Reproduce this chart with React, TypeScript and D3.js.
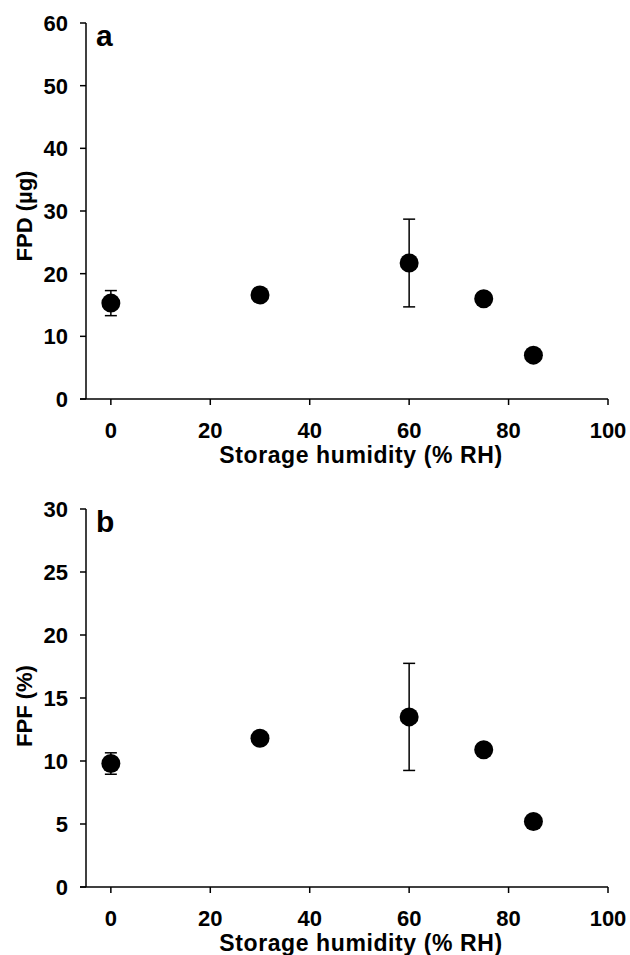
import React from 'react';
import * as d3 from 'd3';

// storage humidity (% RH)
const humidity = [0, 30, 60, 75, 85];
// panel a: fine particle dose (µg)
const fpdMean = [15.3, 16.6, 21.7, 16.0, 7.0];
const fpdErr = [2.0, 0, 7.0, 0, 0];
// panel b: fine particle fraction (%)
const fpfMean = [9.8, 11.8, 13.5, 10.9, 5.2];
const fpfErr = [0.85, 0, 4.25, 0, 0];

const xTicks = [0, 20, 40, 60, 80, 100];
const fpdTicks = [0, 10, 20, 30, 40, 50, 60];
const fpfTicks = [0, 5, 10, 15, 20, 25, 30];

const FONT = '"Liberation Sans", Arial, sans-serif';

type PanelProps = {
  top: number;
  bottom: number;
  letter: string;
  yLabel: string;
  yLabelMid: number;
  yMax: number;
  yTicks: number[];
  means: number[];
  errs: number[];
};

const Panel = ({ top, bottom, letter, yLabel, yLabelMid, yMax, yTicks, means, errs }: PanelProps) => {
  const x = d3.scaleLinear().domain([-5, 100]).range([86, 608]);
  const y = d3.scaleLinear().domain([0, yMax]).range([bottom, top]);
  const x0 = x.range()[0];

  return (
    <g fontFamily={FONT} fontWeight="bold" fill="#000">
      {/* axes */}
      <line x1={x0} x2={x0} y1={y(yMax)} y2={y(0)} stroke="#000" strokeWidth={1.5} />
      <line x1={x0 - 6} x2={x(100)} y1={y(0)} y2={y(0)} stroke="#000" strokeWidth={1.5} />
      {yTicks.map(t => (
        <g key={'y' + t}>
          <line x1={x0 - 6} x2={x0} y1={y(t)} y2={y(t)} stroke="#000" strokeWidth={1.5} />
          <text x={68} y={y(t) + 8} textAnchor="end" fontSize={22}>
            {t}
          </text>
        </g>
      ))}
      {xTicks.map(t => (
        <g key={'x' + t}>
          <line x1={x(t)} x2={x(t)} y1={y(0)} y2={y(0) + 6} stroke="#000" strokeWidth={1.5} />
          <text x={x(t)} y={y(0) + 39} textAnchor="middle" fontSize={22}>
            {t}
          </text>
        </g>
      ))}
      <text x={361} y={y(0) + 64} textAnchor="middle" fontSize={23} letterSpacing={0.6}>
        Storage humidity (% RH)
      </text>
      <text
        transform={`translate(32 ${yLabelMid}) rotate(-90)`}
        textAnchor="middle"
        fontSize={22}
      >
        {yLabel}
      </text>
      <text x={96} y={y(yMax) + 23} fontSize={30}>
        {letter}
      </text>

      {/* error bars */}
      {humidity.map((h, i) =>
        errs[i] > 0 ? (
          <g key={'e' + i} stroke="#000" strokeWidth={1.5}>
            <line x1={x(h)} x2={x(h)} y1={y(means[i] + errs[i])} y2={y(means[i] - errs[i])} />
            <line x1={x(h) - 6} x2={x(h) + 6} y1={y(means[i] + errs[i])} y2={y(means[i] + errs[i])} />
            <line x1={x(h) - 6} x2={x(h) + 6} y1={y(means[i] - errs[i])} y2={y(means[i] - errs[i])} />
          </g>
        ) : null
      )}
      {humidity.map((h, i) => (
        <circle key={'p' + i} cx={x(h)} cy={y(means[i])} r={9.5} fill="#000" />
      ))}
    </g>
  );
};

const App = () => (
  <svg
    width={630}
    height={955}
    style={{ position: 'absolute', left: 0, top: 0, background: '#fff' }}
  >
    <rect width={630} height={955} fill="#fff" />
    <Panel
      top={23}
      bottom={399}
      letter="a"
      yLabel="FPD (µg)"
      yLabelMid={216}
      yMax={60}
      yTicks={fpdTicks}
      means={fpdMean}
      errs={fpdErr}
    />
    <Panel
      top={509}
      bottom={887}
      letter="b"
      yLabel="FPF (%)"
      yLabelMid={706}
      yMax={30}
      yTicks={fpfTicks}
      means={fpfMean}
      errs={fpfErr}
    />
  </svg>
);

export default App;
